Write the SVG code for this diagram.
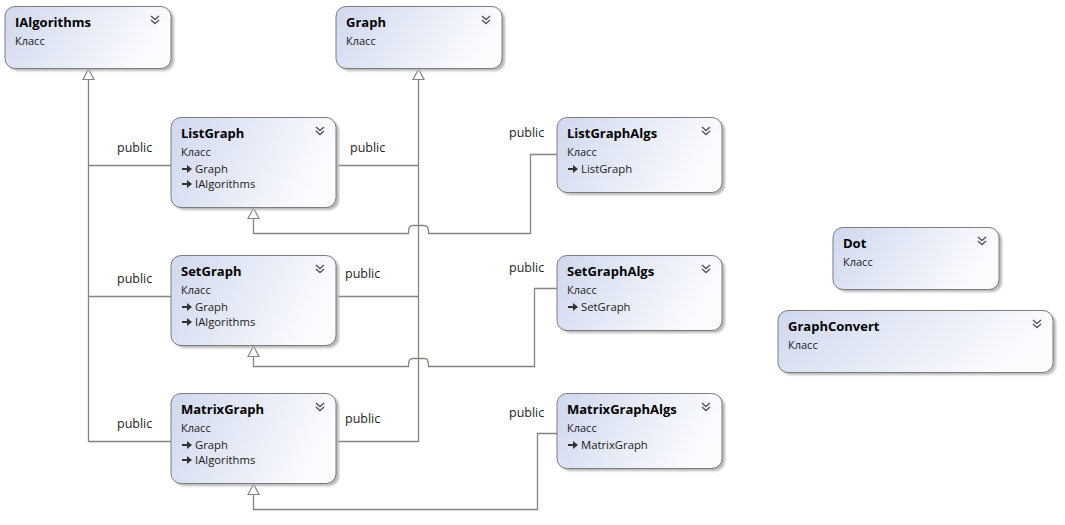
<svg xmlns="http://www.w3.org/2000/svg" xmlns:xlink="http://www.w3.org/1999/xlink" width="1065" height="525" viewBox="0 0 1065 525">
<style>
.box{fill:url(#grad);stroke:#7c7c7c;stroke-width:1}
.shadow{fill:#b8b8b8;filter:url(#blur)}
.title{font-family:"Open Sans","DejaVu Sans",sans-serif;font-weight:bold;font-size:13px;fill:#000}
.kind{font-family:"Open Sans","DejaVu Sans",sans-serif;font-size:11px;fill:#1a1a1a}
.item{font-family:"Open Sans","DejaVu Sans",sans-serif;font-size:11.3px;fill:#1a1a1a}
.lbl{font-family:"Open Sans","DejaVu Sans",sans-serif;font-size:12.5px;fill:#1e1e1e}
.conn{fill:none;stroke:#85857d;stroke-width:1.3}
.chev{fill:none;stroke:#555;stroke-width:1.4}
</style>
<defs>
<linearGradient id="grad" x1="0" y1="0" x2="1" y2="0.25">
<stop offset="0" stop-color="#d0d8ee"/>
<stop offset="0.55" stop-color="#e8ecf7"/>
<stop offset="1" stop-color="#fbfcfe"/>
</linearGradient>
<filter id="blur" x="-10%" y="-10%" width="120%" height="130%"><feGaussianBlur stdDeviation="1.2"/></filter>
<marker id="tri" markerUnits="userSpaceOnUse" markerWidth="14" markerHeight="14" viewBox="0 0 14 14" refX="12" refY="7" orient="auto">
<path d="M1.5,1.5 L12,7 L1.5,12.5 Z" fill="#fff" stroke="#85857d" stroke-width="1.2"/>
</marker>
<g id="chev"><path class="chev" d="M-4,-4 L0,-0.5 L4,-4 M-4,0 L0,3.5 L4,0"/></g>
<g id="inh"><path d="M0,-1 H5 V-4 L10,0 L5,4 V1 H0 Z" fill="#333"/></g>
</defs>

<g id="connectors">
<path class="conn" d="M171,165.5 H88.5"/>
<path class="conn" d="M171,296.5 H88.5"/>
<path class="conn" d="M171,441.5 H88.5 V69" marker-end="url(#tri)"/>
<path class="conn" d="M336,165.5 H418.5"/>
<path class="conn" d="M336,296.5 H418.5"/>
<path class="conn" d="M336,441.5 H418.5 V69" marker-end="url(#tri)"/>
<path class="conn" d="M557,154.5 H530.5 V233.5 H428.5 C428.5,226.5 427,225.5 424,225.5 H413 C410,225.5 408.5,226.5 408.5,233.5 H253.5 V208" marker-end="url(#tri)"/>
<path class="conn" d="M557,288.5 H534.5 V366.5 H428.5 C428.5,359.5 427,358.5 424,358.5 H413 C410,358.5 408.5,359.5 408.5,366.5 H253.5 V346" marker-end="url(#tri)"/>
<path class="conn" d="M557,433.5 H537.5 V509.5 H253.5 V484" marker-end="url(#tri)"/>
<text class="lbl" x="117" y="152">public</text>
<text class="lbl" x="350" y="152">public</text>
<text class="lbl" x="117" y="283">public</text>
<text class="lbl" x="345" y="278">public</text>
<text class="lbl" x="117" y="428">public</text>
<text class="lbl" x="345" y="423">public</text>
<text class="lbl" x="509" y="137">public</text>
<text class="lbl" x="509" y="272">public</text>
<text class="lbl" x="509" y="417">public</text>
</g>

<g id="IAlgorithms">
<rect class="shadow" x="8" y="9" width="166" height="62" rx="10"/>
<rect class="box" x="5" y="6.5" width="166" height="62" rx="10"/>
<text class="title" x="15" y="27">IAlgorithms</text>
<text class="kind" x="15" y="45">Класс</text>
<use xlink:href="#chev" x="155" y="20"/>
</g>

<g id="Graph">
<rect class="shadow" x="339" y="9" width="166" height="62" rx="10"/>
<rect class="box" x="336" y="6.5" width="166" height="62" rx="10"/>
<text class="title" x="346" y="27">Graph</text>
<text class="kind" x="346" y="45">Класс</text>
<use xlink:href="#chev" x="486" y="20"/>
</g>

<g id="ListGraph">
<rect class="shadow" x="174" y="120" width="165" height="90" rx="10"/>
<rect class="box" x="171" y="117.5" width="165" height="90" rx="10"/>
<text class="title" x="181" y="138">ListGraph</text>
<text class="kind" x="181" y="156">Класс</text>
<use xlink:href="#inh" x="182" y="169"/>
<text class="item" x="195" y="173">Graph</text>
<use xlink:href="#inh" x="182" y="184"/>
<text class="item" x="195" y="188">IAlgorithms</text>
<use xlink:href="#chev" x="320" y="131"/>
</g>

<g id="SetGraph">
<rect class="shadow" x="174" y="258" width="165" height="90" rx="10"/>
<rect class="box" x="171" y="255.5" width="165" height="90" rx="10"/>
<text class="title" x="181" y="276">SetGraph</text>
<text class="kind" x="181" y="294">Класс</text>
<use xlink:href="#inh" x="182" y="307"/>
<text class="item" x="195" y="311">Graph</text>
<use xlink:href="#inh" x="182" y="322"/>
<text class="item" x="195" y="326">IAlgorithms</text>
<use xlink:href="#chev" x="320" y="269"/>
</g>

<g id="MatrixGraph">
<rect class="shadow" x="174" y="396" width="165" height="90" rx="10"/>
<rect class="box" x="171" y="393.5" width="165" height="90" rx="10"/>
<text class="title" x="181" y="414">MatrixGraph</text>
<text class="kind" x="181" y="432">Класс</text>
<use xlink:href="#inh" x="182" y="445"/>
<text class="item" x="195" y="449">Graph</text>
<use xlink:href="#inh" x="182" y="460"/>
<text class="item" x="195" y="464">IAlgorithms</text>
<use xlink:href="#chev" x="320" y="407"/>
</g>

<g id="ListGraphAlgs">
<rect class="shadow" x="560" y="120" width="165" height="75" rx="10"/>
<rect class="box" x="557" y="117.5" width="165" height="75" rx="10"/>
<text class="title" x="567" y="138">ListGraphAlgs</text>
<text class="kind" x="567" y="156">Класс</text>
<use xlink:href="#inh" x="568" y="169"/>
<text class="item" x="581" y="173">ListGraph</text>
<use xlink:href="#chev" x="706" y="131"/>
</g>

<g id="SetGraphAlgs">
<rect class="shadow" x="560" y="258" width="165" height="75" rx="10"/>
<rect class="box" x="557" y="255.5" width="165" height="75" rx="10"/>
<text class="title" x="567" y="276">SetGraphAlgs</text>
<text class="kind" x="567" y="294">Класс</text>
<use xlink:href="#inh" x="568" y="307"/>
<text class="item" x="581" y="311">SetGraph</text>
<use xlink:href="#chev" x="706" y="269"/>
</g>

<g id="MatrixGraphAlgs">
<rect class="shadow" x="560" y="396" width="165" height="75" rx="10"/>
<rect class="box" x="557" y="393.5" width="165" height="75" rx="10"/>
<text class="title" x="567" y="414">MatrixGraphAlgs</text>
<text class="kind" x="567" y="432">Класс</text>
<use xlink:href="#inh" x="568" y="445"/>
<text class="item" x="581" y="449">MatrixGraph</text>
<use xlink:href="#chev" x="706" y="407"/>
</g>

<g id="Dot">
<rect class="shadow" x="836" y="230" width="166" height="62" rx="10"/>
<rect class="box" x="833" y="227.5" width="166" height="62" rx="10"/>
<text class="title" x="843" y="248">Dot</text>
<text class="kind" x="843" y="266">Класс</text>
<use xlink:href="#chev" x="982" y="241"/>
</g>

<g id="GraphConvert">
<rect class="shadow" x="781" y="313" width="275" height="62" rx="10"/>
<rect class="box" x="778" y="310.5" width="275" height="62" rx="10"/>
<text class="title" x="788" y="331">GraphConvert</text>
<text class="kind" x="788" y="349">Класс</text>
<use xlink:href="#chev" x="1037" y="324"/>
</g>
</svg>
